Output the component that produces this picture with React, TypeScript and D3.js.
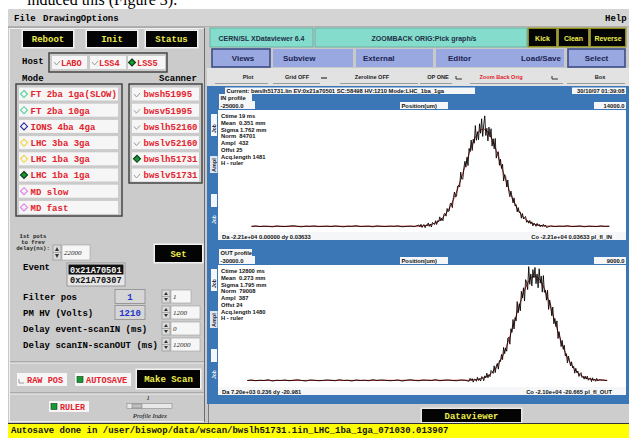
import React from 'react'
import * as d3 from 'd3'

// ---- profile data (counts vs position in um) ----
// IN profile
const inRange = [-25000, 14000]
const inBaseL = [25, 27, 24, 26, 25, 23, 27, 25, 24, 26, 28, 25, 23, 26, 25, 27, 24, 25, 26, 24, 27, 25, 23, 26, 25, 28, 24, 25, 26, 23, 27, 25, 24, 26, 25, 27, 23, 25, 26, 24]
const inPeakStart = -5800
const inPeak = [31, 23, 34, 20, 29, 33, 19, 32, 28, 40, 25, 35, 22, 42, 38, 33, 50, 33, 50, 46,
  67, 49, 61, 50, 79, 82, 70, 104, 91, 93, 126, 126, 108, 152, 177, 155, 158, 203, 206, 199,
  265, 235, 234, 282, 313, 287, 331, 294, 370, 356, 407, 361, 411, 393, 471, 406, 444, 408, 479, 437,
  501, 423, 475, 514, 427, 459, 403, 464, 421, 457, 380, 413, 368, 414, 327, 352, 355, 295, 322, 281,
  300, 226, 254, 245, 199, 230, 179, 156, 181, 157, 129, 151, 115, 121, 89, 108, 86, 88, 61, 82,
  58, 64, 69, 43, 50, 39, 51, 37, 45, 27, 39, 35, 25, 38, 28, 34, 23, 31, 24, 34, 25, 31, 20]
const inBaseR = [27, 24, 26, 25, 28, 24, 25, 27, 23, 26, 25, 24, 27, 25, 26]
const inFitStart = -6000
const inFit = [25.7, 26.4, 28.0, 31.0, 36.4, 45.5, 60.0, 81.7, 112.4, 152.8, 202.6, 259.2, 318.4, 374.1, 419.6, 448.6, 456.8, 443.2, 409.5, 360.9, 303.6, 244.6, 189.3, 141.8, 103.8, 75.5, 55.8, 42.8, 34.8, 30.1, 27.5, 26.2, 25.5]
const inOffset = 25
const inStats = ['Ctime 19 ms', 'Mean  0.351 mm', 'Sigma 1.762 mm', 'Norm  84701', 'Ampl  432', 'Offst 25', 'Acq.length 1481', 'H - ruler']

// OUT profile
const outRange = [-30000, 9000]
const outBaseL = [24, 26, 23, 25, 24, 27, 22, 25, 24, 26, 23, 25, 27, 24, 22, 26, 25, 23, 24, 26, 25, 23, 27, 24, 25, 22, 26, 24, 25, 23, 27, 24, 26, 25, 23, 24, 26, 22, 25, 27, 24, 23, 26, 25, 24, 27, 23, 25, 26, 24, 23, 26, 25]
const outPeakStart = -6000
const outPeak = [21, 32, 24, 31, 18, 29, 28, 21, 36, 24, 31, 22, 38, 36, 23, 41, 34, 51, 34, 45,
  38, 61, 57, 50, 78, 53, 77, 87, 66, 98, 94, 120, 101, 146, 123, 144, 132, 180, 183, 158,
  215, 202, 249, 214, 256, 244, 315, 274, 307, 281, 353, 328, 366, 317, 396, 388, 359, 444, 379, 417,
  373, 433, 403, 441, 381, 417, 366, 436, 383, 409, 350, 411, 349, 357, 320, 357, 286, 321, 302, 263,
  295, 233, 253, 223, 244, 179, 204, 181, 149, 172, 139, 154, 114, 123, 89, 114, 97, 78, 93, 70,
  76, 51, 69, 53, 59, 39, 49, 53, 35, 39, 29, 40, 29, 40, 25, 31, 33, 20, 34, 24, 29, 21, 32, 22, 27]
const outBaseR = [26, 24]
const outFitStart = -6000
const outFit = [24.9, 25.8, 27.7, 31.2, 37.1, 46.8, 61.7, 83.5, 113.4, 151.7, 197.8, 248.6, 300.6, 347.6, 384.7, 406.5, 410.0, 394.6, 362.6, 318.5, 267.6, 215.8, 167.7, 126.4, 93.4, 68.9, 51.5, 40.1, 32.9, 28.7, 26.4, 25.1]
const outOffset = 24
const outStats = ['Ctime 12800 ms', 'Mean  0.273 mm', 'Sigma 1.795 mm', 'Norm  79008', 'Ampl  387', 'Offst 24', 'Acq.length 1480', 'H - ruler']

// ---- GUI labels ----
const modes = ['FT 2ba 1ga(SLOW)', 'FT 2ba 10ga', 'IONS 4ba 4ga', 'LHC 3ba 3ga', 'LHC 1ba 3ga', 'LHC 1ba 1ga', 'MD slow', 'MD fast']
const modeMarks = ['#5cd2a2', '#5cd2a2', '#2a2aa0', '#f0d444', '#f0d444', 'sel', '#e27ee6', '#e27ee6']
const scanners = ['bwsh51995', 'bwsv51995', 'bwslh52160', 'bwslv52160', 'bwslh51731', 'bwslv51731']
const scannerSel = 4
const hosts = ['LABO', 'LSS4', 'LSS5']
const hostSel = 2
const events = ['0x21A70501', '0x21A70307']
const settings = ['Filter pos', 'PM HV (Volts)', 'Delay event-scanIN (ms)', 'Delay scanIN-scanOUT (ms)']
const settingVals = ['1', '1210', '', '']
const fieldVals = ['1', '1200', '0', '12000']

const MONO = "'Liberation Mono','DejaVu Sans Mono',monospace"
const SANS = "'Liberation Sans',Arial,sans-serif"
const SERIF = "'Liberation Serif','Times New Roman',serif"
const RED = '#e4222c'
const YEL = '#eeee4c'
const GRAY = '#c9c9c9'
const BLUE = '#3b77b7'
const TEAL = '#84dccc'
const TAB = '#9aa8e2'
const GREEN = '#169a36'

type Pt = [number, number]

// baseline samples every 400 um, peak samples every 100 um
const buildRaw = (baseL: number[], start: number, peak: number[], baseR: number[]): Pt[] => {
  const pts: Pt[] = []
  baseL.forEach((v, i) => pts.push([start - (baseL.length - i) * 400, v]))
  peak.forEach((v, i) => pts.push([start + i * 100, v]))
  const end = start + (peak.length - 1) * 100
  baseR.forEach((v, i) => pts.push([end + (i + 1) * 400, v]))
  return pts
}
const buildFit = (raw: Pt[], start: number, fit: number[], off: number): Pt[] => [
  [raw[0][0], off],
  ...fit.map((v, i) => [start + i * 400, v] as Pt),
  [raw[raw.length - 1][0], off],
]

const BlackBtn = ({ x, y, w, h, label, font = MONO, size = 9, border = '#f2f2f2' }: any) => (
  <g>
    <rect x={x - 1.5} y={y - 1.5} width={w + 3} height={h + 3} fill={border} />
    <rect x={x} y={y} width={w} height={h} fill="#040404" />
    <text x={x + w / 2} y={y + h / 2 + 3} textAnchor="middle" fill={YEL} fontFamily={font} fontWeight="bold" fontSize={size}>{label}</text>
  </g>
)

const Check = ({ x, y }: any) => (
  <polyline points={`${x},${y - 1} ${x + 2.5},${y + 2} ${x + 6},${y - 2}`} fill="none" stroke="#9a9a9a" strokeWidth={1} />
)
const Diamond = ({ cx, cy, color, filled }: any) => (
  <path d={`M${cx},${cy - 3.5}L${cx + 3.5},${cy}L${cx},${cy + 3.5}L${cx - 3.5},${cy}Z`}
    fill={filled ? GREEN : 'none'} stroke={filled ? '#0a3a12' : color} strokeWidth={1.1} />
)

const Spin = ({ x, y, h = 13 }: any) => (
  <g>
    <rect x={x} y={y} width={8} height={h} fill="#dadada" stroke="#8a8a8a" strokeWidth={0.6} />
    <line x1={x} x2={x + 8} y1={y + h / 2} y2={y + h / 2} stroke="#8a8a8a" strokeWidth={0.6} />
    <path d={`M${x + 2},${y + h / 2 - 1.5}L${x + 4},${y + 2}L${x + 6},${y + h / 2 - 1.5}Z`} fill="#333" />
    <path d={`M${x + 2},${y + h / 2 + 1.5}L${x + 4},${y + h - 2}L${x + 6},${y + h / 2 + 1.5}Z`} fill="#333" />
  </g>
)
const Field = ({ x, y, w, h = 13, v }: any) => (
  <g>
    <rect x={x} y={y} width={w} height={h} fill="#f6f6f6" stroke="#a0a0a0" strokeWidth={0.6} />
    <text x={x + 2} y={y + h / 2 + 2.5} fontFamily={SERIF} fontStyle="italic" fontSize={7} fill="#222">{v}</text>
  </g>
)
const Lbl = ({ x, y, w, h, t, anchor = 'start' }: any) => (
  <g>
    <rect x={x} y={y} width={w} height={h} fill="#f4f6f8" />
    <text x={anchor === 'end' ? x + w - 1.5 : x + 1.5} y={y + h - 1.2} textAnchor={anchor} fontFamily={SANS} fontWeight="bold" fontSize={5.8} fill="#111">{t}</text>
  </g>
)

const Plot = ({ top, title, left, right, stats, raw, fit, xs, ys, da, co }: any) => {
  const line = d3.line<Pt>().x((d) => xs(d[0])).y((d) => ys(d[1]))
  const [y0] = ys.range()
  return (
    <g>
      <Lbl x={219} y={top} w={33} h={7} t={title} />
      <Lbl x={219} y={top + 7} w={36} h={8} t={left} />
      <Lbl x={400} y={top + 8} w={48} h={7} t="Position(um)" />
      <Lbl x={594} y={top + 8} w={32} h={7} t={right} anchor="end" />
      <rect x={218} y={top + 16} width={408} height={y0 - top - 16} fill="#fff" />
      {stats.map((s: string, i: number) => (
        <text key={s} x={221} y={top + 24 + i * 6.75} fontFamily={SANS} fontWeight="bold" fontSize={5.8} fill="#111" style={{ whiteSpace: 'pre' }}>{s}</text>
      ))}
      <path d={line(fit) || ''} fill="none" stroke="#d0282a" strokeWidth={1} />
      <path d={line(raw) || ''} fill="none" stroke="#000" strokeWidth={0.95} strokeOpacity={0.9} />
      <rect x={218} y={y0} width={408} height={8} fill="#f4f6f8" />
      <text x={222} y={y0 + 6.5} fontFamily={SANS} fontWeight="bold" fontSize={5.8} fill="#111">{da}</text>
      <text x={612} y={y0 + 6.5} textAnchor="end" fontFamily={SANS} fontWeight="bold" fontSize={5.8} fill="#111">{co}</text>
      {/* left slider strip */}
      <rect x={211} y={top + 20} width={6} height={22} fill="#f4f6f8" />
      <text transform={`translate(216,${top + 39}) rotate(-90)`} fontFamily={SANS} fontWeight="bold" fontSize={5} fill="#223">Job</text>
      <rect x={210} y={top + 62} width={7.5} height={17} fill="#dfe6ee" />
      <text transform={`translate(216,${top + 78}) rotate(-90)`} fontFamily={SANS} fontWeight="bold" fontSize={5.5} fill="#223">Ampl</text>
      <rect x={211} y={top + 100} width={6} height={13} fill="#f4f6f8" />
      <text transform={`translate(216,${top + 130}) rotate(-90)`} fontFamily={SANS} fontWeight="bold" fontSize={5} fill="#f0f0f0">Job</text>
    </g>
  )
}

export default function App() {
  const inRaw = buildRaw(inBaseL, inPeakStart, inPeak, inBaseR)
  const inFitPts = buildFit(inRaw, inFitStart, inFit, inOffset)
  const outRaw = buildRaw(outBaseL, outPeakStart, outPeak, outBaseR)
  const outFitPts = buildFit(outRaw, outFitStart, outFit, outOffset)
  const inX = d3.scaleLinear().domain(inRange).range([218, 626])
  const inY = d3.scaleLinear().domain([0, 540]).range([232, 110])
  const outX = d3.scaleLinear().domain(outRange).range([218, 626])
  const outY = d3.scaleLinear().domain([0, 450]).range([387, 265])

  const itemY = (k: number) => 87.5 + k * 16.2

  return (
    <div style={{ position: 'absolute', left: 0, top: 0 }}>
      <svg width={629} height={438} style={{ display: 'block', background: '#fff' }}>
        <text x={27} y={5} fontFamily={SERIF} fontSize={16} fill="#000">induced this (Figure 3).</text>

        {/* window */}
        <rect x={8} y={9} width={621} height={429} fill={GRAY} />
        <rect x={8} y={9} width={621} height={18} fill="#d4d4d4" />
        <line x1={8} x2={629} y1={27} y2={27} stroke="#8c8c8c" />
        <text x={14} y={21} fontFamily={MONO} fontWeight="bold" fontSize={9}>File</text>
        <text x={43} y={21} fontFamily={MONO} fontWeight="bold" fontSize={9}>DrawingOptions</text>
        <text x={605} y={21} fontFamily={MONO} fontWeight="bold" fontSize={9}>Help</text>

        {/* left panel */}
        <rect x={9.5} y={28.5} width={195} height={393} fill="#cbcbcb" stroke="#f0f0f0" />
        <line x1={204.5} x2={204.5} y1={28} y2={422} stroke="#6c6c6c" />
        <BlackBtn x={23} y={31} w={50} h={16} label="Reboot" />
        <BlackBtn x={87} y={31} w={50} h={16} label="Init" />
        <BlackBtn x={146} y={31} w={51} h={16} label="Status" />

        <text x={22} y={64} fontFamily={MONO} fontWeight="bold" fontSize={9}>Host</text>
        <rect x={49} y={53} width={118} height={19} fill="none" stroke="#3c3c3c" strokeWidth={1.4} />
        {hosts.map((h, i) => {
          const x = [52, 90, 128][i]
          return (
            <g key={h}>
              <rect x={x} y={56} width={[35, 36, 37][i]} height={13} fill="#f6f6f6" />
              {i === hostSel ? <Diamond cx={x + 4} cy={62.5} filled /> : <Check x={x + 2} y={63} />}
              <text x={x + 9} y={66} fontFamily={MONO} fontWeight="bold" fontSize={8.6} fill={RED}>{h}</text>
            </g>
          )
        })}

        <text x={22} y={81} fontFamily={MONO} fontWeight="bold" fontSize={9}>Mode</text>
        <text x={159} y={81} fontFamily={MONO} fontWeight="bold" fontSize={9}>Scanner</text>
        <rect x={16} y={84} width={106} height={132} fill="none" stroke="#3c3c3c" strokeWidth={1.4} />
        {modes.map((m, k) => (
          <g key={m}>
            <rect x={19} y={itemY(k)} width={99} height={13} fill="#f6f6f6" />
            <Diamond cx={24} cy={itemY(k) + 6.5} color={modeMarks[k]} filled={modeMarks[k] === 'sel'} />
            <text x={30.5} y={itemY(k) + 9.8} fontFamily={MONO} fontWeight="bold" fontSize={9} fill={RED}>{m}</text>
          </g>
        ))}
        <rect x={129} y={84} width={73} height={99} fill="none" stroke="#3c3c3c" strokeWidth={1.4} />
        {scanners.map((s, k) => (
          <g key={s}>
            <rect x={132} y={itemY(k)} width={67} height={13} fill="#f6f6f6" />
            {k === scannerSel ? <Diamond cx={137} cy={itemY(k) + 6.5} filled /> : <Check x={134} y={itemY(k) + 7.5} />}
            <text x={143.5} y={itemY(k) + 9.8} fontFamily={MONO} fontWeight="bold" fontSize={9} fill={RED}>{s}</text>
          </g>
        ))}

        {['1st pots', 'to frev', 'delay(ns):'].map((t, i) => (
          <text key={t} x={33} y={238 + i * 6} textAnchor="middle" fontFamily={MONO} fontWeight="bold" fontSize={5.6} fill="#222">{t}</text>
        ))}
        <Spin x={53} y={245} h={15} />
        <Field x={62} y={245} w={28} h={15} v="22000" />
        <BlackBtn x={155} y={245} w={47} h={17} label="Set" />

        <text x={23} y={270} fontFamily={MONO} fontWeight="bold" fontSize={9}>Event</text>
        <rect x={67} y={263} width={58} height={23} fill="#e6e6e6" stroke="#8a8a8a" strokeWidth={0.8} />
        <rect x={68.5} y={264.5} width={55} height={10} fill="#111" />
        {events.map((e, i) => (
          <text key={e} x={70} y={272.5 + i * 10.5} fontFamily={MONO} fontWeight="bold" fontSize={8.6} fill={i === 0 ? '#f4f4f4' : '#111'}>{e}</text>
        ))}

        {settings.map((s, i) => {
          const y = 290 + i * 16
          return (
            <g key={s}>
              <text x={23} y={y + 10} fontFamily={MONO} fontWeight="bold" fontSize={9}>{s}</text>
              {settingVals[i] && (
                <g>
                  <rect x={115} y={y - 0.5} width={30} height={14} fill="#d6d6d6" stroke="#8a8a8a" strokeWidth={0.8} />
                  <text x={130} y={y + 9.5} textAnchor="middle" fontFamily={MONO} fontWeight="bold" fontSize={9} fill="#2233cc">{settingVals[i]}</text>
                </g>
              )}
              <Spin x={162} y={y} />
              <Field x={171} y={y} w={i === 0 ? 20 : 29} v={fieldVals[i]} />
            </g>
          )
        })}

        <line x1={10} x2={204} y1={362} y2={362} stroke="#8a8a8a" />
        <line x1={10} x2={204} y1={363} y2={363} stroke="#f0f0f0" />
        <rect x={17} y={373} width={50} height={13} fill="#f6f6f6" />
        <polyline points="19,379 19,383 24,383" fill="none" stroke="#9a9a9a" />
        <text x={27} y={382.5} fontFamily={MONO} fontWeight="bold" fontSize={8.6} fill={RED}>RAW POS</text>
        <rect x={75} y={373} width={56} height={13} fill="#f6f6f6" />
        <rect x={77} y={376.5} width={6} height={6} fill={GREEN} stroke="#0a3a12" strokeWidth={0.6} />
        <text x={86} y={382.5} fontFamily={MONO} fontWeight="bold" fontSize={8.6} fill={RED}>AUTOSAVE</text>
        <BlackBtn x={137} y={370} w={63} h={18} label="Make Scan" />
        <line x1={10} x2={204} y1={393} y2={393} stroke="#8a8a8a" />
        <line x1={10} x2={204} y1={394} y2={394} stroke="#f0f0f0" />
        <rect x={49} y={401} width={40} height={11} fill="#f6f6f6" />
        <rect x={51} y={403.5} width={6} height={6} fill={GREEN} stroke="#0a3a12" strokeWidth={0.6} />
        <text x={60} y={410} fontFamily={MONO} fontWeight="bold" fontSize={8.4} fill={RED}>RULER</text>
        <text x={148} y={400} textAnchor="middle" fontFamily={SERIF} fontStyle="italic" fontSize={6.5}>1</text>
        <rect x={127} y={403.5} width={45} height={5} fill="#e8e8e8" stroke="#8a8a8a" strokeWidth={0.6} />
        <rect x={132} y={404} width={10} height={4} fill="#c0c0c0" stroke="#777" strokeWidth={0.5} />
        <text x={150} y={418} textAnchor="middle" fontFamily={SERIF} fontStyle="italic" fontSize={6.5}>Profile Index</text>

        {/* right panel */}
        <rect x={205} y={27} width={424} height={396} fill={GRAY} />
        <rect x={210} y={28} width={103} height={19} fill={TEAL} stroke="#5aa89a" strokeWidth={0.8} />
        <text x={261.5} y={40.5} textAnchor="middle" fontFamily={SANS} fontWeight="bold" fontSize={7} fill="#1f3048">CERN/SL XDataviewer 6.4</text>
        <rect x={315} y={28} width={212} height={19} fill={TEAL} stroke="#5aa89a" strokeWidth={0.8} />
        <text x={424} y={40.5} textAnchor="middle" fontFamily={SANS} fontWeight="bold" fontSize={7} fill="#1f3048">ZOOMBACK ORIG:Pick graph/s</text>
        <BlackBtn x={529} y={29} w={27} h={17} label="Kick" font={SANS} size={7} border="#8c8c1e" />
        <BlackBtn x={559} y={29} w={29} h={17} label="Clean" font={SANS} size={7} border="#8c8c1e" />
        <BlackBtn x={591} y={29} w={34} h={17} label="Reverse" font={SANS} size={7} border="#8c8c1e" />

        <rect x={212} y={49} width={58} height={18} fill={TAB} stroke="#3c4c86" strokeWidth={1.6} />
        <text x={243} y={61} textAnchor="middle" fontFamily={SANS} fontWeight="bold" fontSize={8} fill="#1c2450">Views</text>
        <rect x={273} y={49} width={80} height={18} fill={TAB} />
        <text x={283} y={61} fontFamily={SANS} fontWeight="bold" fontSize={8} fill="#1c2450">Subview</text>
        <rect x={356} y={49} width={77} height={18} fill={TAB} />
        <text x={363} y={61} fontFamily={SANS} fontWeight="bold" fontSize={8} fill="#1c2450">External</text>
        <rect x={436} y={49} width={128} height={18} fill={TAB} />
        <text x={448} y={61} fontFamily={SANS} fontWeight="bold" fontSize={8} fill="#1c2450">Editor</text>
        <text x={561} y={61} textAnchor="end" fontFamily={SANS} fontWeight="bold" fontSize={8} fill="#1c2450">Load/Save</text>
        <rect x={568} y={49} width={57} height={18} fill={TAB} stroke="#3c4c86" strokeWidth={1.6} />
        <text x={596.5} y={61} textAnchor="middle" fontFamily={SANS} fontWeight="bold" fontSize={8} fill="#1c2450">Select</text>

        <rect x={207} y={68} width={422} height={18} fill="#e2e2e2" />
        {[[215, 268], [273, 320], [340, 418], [420, 452], [470, 563], [567, 625]].map(([a, b]) => (
          <line key={a} x1={a} x2={b} y1={83.5} y2={83.5} stroke="#8a8a8a" strokeWidth={0.8} />
        ))}
        {[['Plot', 248], ['Grid OFF', 297], ['Zeroline OFF', 372], ['OP ONE', 438], ['Box', 600]].map(([t, x]) => (
          <text key={t as string} x={x as number} y={79} textAnchor="middle" fontFamily={SANS} fontWeight="bold" fontSize={5.6} fill="#222">{t}</text>
        ))}
        <text x={501} y={79} textAnchor="middle" fontFamily={SANS} fontWeight="bold" fontSize={5.6} fill={RED}>Zoom Back Orig</text>
        <line x1={321} x2={327} y1={78} y2={78} stroke="#333" strokeWidth={1.2} />
        <polyline points="456,76 456,79 462,79" fill="none" stroke="#333" strokeWidth={1} />
        <polyline points="552,76 552,79 558,79" fill="none" stroke="#333" strokeWidth={1} />

        <rect x={207} y={86} width={422} height={318} fill={BLUE} />
        <Lbl x={225} y={87.5} w={250} h={6.5} t="Current: bwslh51731.lin  EV:0x21a70501  SC:58498  HV:1210  Mode:LHC_1ba_1ga" />
        <Lbl x={572} y={87.5} w={54} h={6.5} t="30/10/07 01:39:08" anchor="end" />
        <Plot top={94} title="IN profile" left="-25000.0" right="14000.0" stats={inStats}
          raw={inRaw} fit={inFitPts} xs={inX} ys={inY}
          da="Da  -2.21e+04 0.00000 dy 0.03633" co="Co  -2.21e+04 0.03633 pl_fl_IN" />
        <Plot top={249} title="OUT profile" left="-30000.0" right="9000.0" stats={outStats}
          raw={outRaw} fit={outFitPts} xs={outX} ys={outY}
          da="Da  7.20e+03  0.236 dy -20.981" co="Co  -2.10e+04 -20.665 pl_fl_OUT" />

        <line x1={208.5} x2={208.5} y1={404} y2={423} stroke="#7a7a7a" />
        <rect x={209} y={404} width={420} height={19} fill="#cdcdcd" />
        <BlackBtn x={422} y={409} w={99} h={13} label="Dataviewer" border="#e8e8e8" />

        {/* status bar */}
        <rect x={8} y={423} width={621} height={15} fill="#ffff00" />
        <line x1={8} x2={629} y1={423.5} y2={423.5} stroke="#333" />
        <text x={11} y={433} fontFamily={MONO} fontWeight="bold" fontSize={9} fill="#111">Autosave done in /user/biswop/data/wscan/bwslh51731.1in_LHC_1ba_1ga_071030.013907</text>
      </svg>
    </div>
  )
}
